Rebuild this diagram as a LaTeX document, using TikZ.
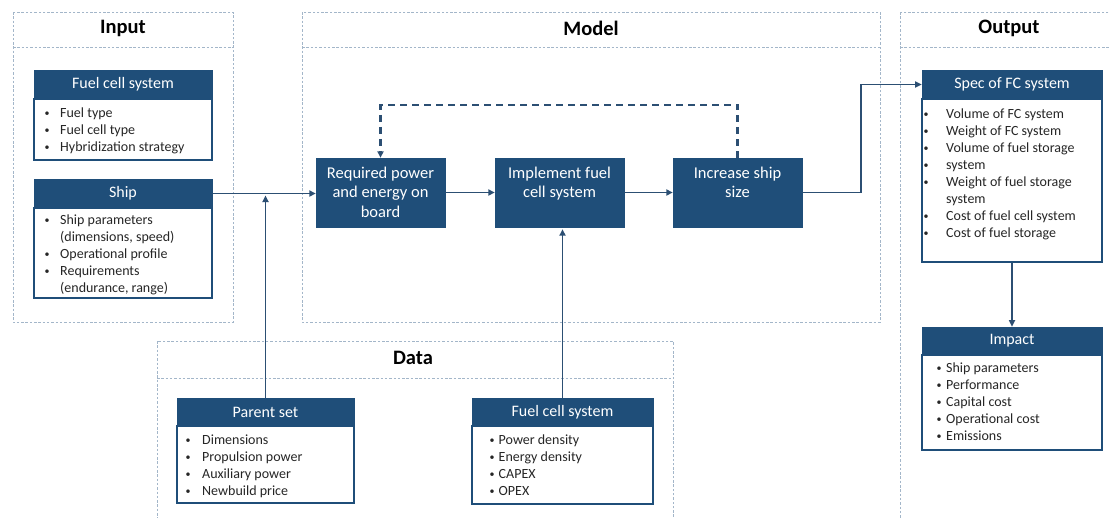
\documentclass[tikz,border=0pt]{standalone}
\usepackage{fontspec}
\setmainfont{Carlito}
\usetikzlibrary{arrows.meta}
\definecolor{navy}{HTML}{1F4E79}
\definecolor{wire}{HTML}{2C4F73}
\definecolor{frame}{HTML}{A3B6C9}
% small bullet sitting centred on the column start
\newcommand{\bu}{\makebox[0pt]{\raisebox{0.6pt}{\fontsize{10}{12}\selectfont\textbullet}}}
% bullet list: #1 = distance from bullet to text, #2 = rows
\newcommand{\blist}[2]{\begin{tabular}[t]{@{}p{#1}@{}l@{}}#2\end{tabular}}
\newcommand{\mtext}[1]{\begin{tabular}[t]{@{}c@{}}#1\end{tabular}}
\tikzset{
  x=1pt, y=-1pt,
  panel/.style={draw=frame, line width=0.8pt, dash pattern=on 2.5pt off 1.8pt},
  title/.style={font=\bfseries\fontsize{20.5}{24}\selectfont, inner sep=0pt},
  hdr/.style={fill=navy, draw=navy, line width=0.6pt, text=white, inner sep=0pt,
    font=\fontsize{16}{19}\selectfont},
  bodybox/.style={fill=white, draw=navy, line width=1.1pt, inner sep=0pt},
  items/.style={anchor=base west, inner sep=0pt, text=black!85,
    font=\fontsize{14}{17}\selectfont},
  stepbox/.style={fill=navy, draw=navy, inner sep=0pt, text=white,
    minimum width=129pt, minimum height=69pt},
  mlabel/.style={anchor=base, inner sep=0pt, text=white,
    font=\fontsize{16.5}{19.5}\selectfont},
  conn/.style={draw=wire, line width=1.9pt, -{Triangle[length=6.5pt,width=6pt]}},
  loopback/.style={draw=wire, line width=2.3pt, dash pattern=on 7pt off 5pt,
    -{Triangle[length=6.5pt,width=6pt]}}
}
\begin{document}
\begin{tikzpicture}
\useasboundingbox (0,0) rectangle (1110,517);
\clip (0,0) rectangle (1110,517);
\fill[white] (0,0) rectangle (1110,517);

% ---- group frames ----
\draw[panel] (13,12) rectangle (233,322);
\draw[panel] (13,47) -- (233,47);
\draw[panel] (302,12) rectangle (880,322);
\draw[panel] (302,47) -- (880,47);
\draw[panel] (900,12) rectangle (1114,530);
\draw[panel] (900,47) -- (1114,47);
\draw[panel] (157,341) rectangle (673,530);
\draw[panel] (157,378) -- (673,378);

\node[title] (tin)  at (123,28)  {Input};
\node[title] (tmod) at (591,28)  {Model};
\node[title] (tout) at (1009,28) {Output};
\node[title] (tdat) at (413,358) {Data};

% ---- input ----
\node[hdr, minimum width=178pt, minimum height=29pt] (fcin-h) at (123,84.5) {Fuel cell system};
\node[bodybox, minimum width=178pt, minimum height=61pt] (fcin-b) at (123,129.5) {};
\node[items] (fcin-t) at (47,117) {\blist{13pt}{%
  \bu & Fuel type\\
  \bu & Fuel cell type\\
  \bu & Hybridization strategy}};

\node[hdr, minimum width=178pt, minimum height=29pt] (ship-h) at (123,193.5) {Ship};
\node[bodybox, minimum width=178pt, minimum height=90pt] (ship-b) at (123,253) {};
\node[items] (ship-t) at (47,224) {\blist{13pt}{%
  \bu & Ship parameters\\
      & (dimensions, speed)\\
  \bu & Operational profile\\
  \bu & Requirements\\
      & (endurance, range)}};

% ---- model ----
\node[stepbox] (req) at (380.5,192.5) {};
\node[mlabel] (req-t) at (380.5,178) {\mtext{Required power\\ and energy on\\ board}};
\node[stepbox] (imp) at (559.5,192.5) {};
\node[mlabel] (imp-t) at (559.5,178) {\mtext{Implement fuel\\ cell system}};
\node[stepbox] (inc) at (737.5,192.5) {};
\node[mlabel] (inc-t) at (737.5,178) {\mtext{Increase ship\\ size}};

% ---- output ----
\node[hdr, minimum width=180pt, minimum height=29pt] (spec-h) at (1012,84.5) {Spec of FC system};
\node[bodybox, minimum width=180pt, minimum height=163pt] (spec-b) at (1012,180.5) {};
\node[items] (spec-t) at (926,118) {\blist{20pt}{%
  \bu & Volume of FC system\\
  \bu & Weight of FC system\\
  \bu & Volume of fuel storage\\
  \bu & system\\
  \bu & Weight of fuel storage\\
      & system\\
  \bu & Cost of fuel cell system\\
  \bu & Cost of fuel storage}};

\node[hdr, minimum width=180pt, minimum height=28pt] (impact-h) at (1012,341) {Impact};
\node[bodybox, minimum width=180pt, minimum height=95pt] (impact-b) at (1012,402.5) {};
\node[items] (impact-t) at (939,372) {\blist{7pt}{%
  \bu & Ship parameters\\
  \bu & Performance\\
  \bu & Capital cost\\
  \bu & Operational cost\\
  \bu & Emissions}};

% ---- data ----
\node[hdr, minimum width=177pt, minimum height=28pt] (par-h) at (265.5,412) {Parent set};
\node[bodybox, minimum width=177pt, minimum height=77pt] (par-b) at (265.5,464.5) {};
\node[items] (par-t) at (188,444) {\blist{14pt}{%
  \bu & Dimensions\\
  \bu & Propulsion power\\
  \bu & Auxiliary power\\
  \bu & Newbuild price}};

\node[hdr, minimum width=181pt, minimum height=28pt] (fcd-h) at (562.5,412) {Fuel cell system};
\node[bodybox, minimum width=181pt, minimum height=78pt] (fcd-b) at (562.5,465) {};
\node[items] (fcd-t) at (492,444) {\blist{6.5pt}{%
  \bu & Power density\\
  \bu & Energy density\\
  \bu & CAPEX\\
  \bu & OPEX}};

% ---- connectors ----
\draw[conn] (ship-h.east) -- (ship-h.east -| req.west);
\draw[conn, shorten >=2pt] (par-h.north) -- (par-h.north |- ship-h.east);
\draw[conn] (req.east) -- (imp.west);
\draw[conn] (imp.east) -- (inc.west);
\draw[conn, shorten >=2pt] (fcd-h.north) -- (fcd-h.north |- imp.south);
\draw[conn] (inc.east) -- ++(59,0) |- (spec-h.west);
\draw[loopback] (inc.north) -- ++(0,-53) -| (req.north);
\draw[conn] (spec-b.south) -- (impact-h.north);
\end{tikzpicture}
\end{document}
